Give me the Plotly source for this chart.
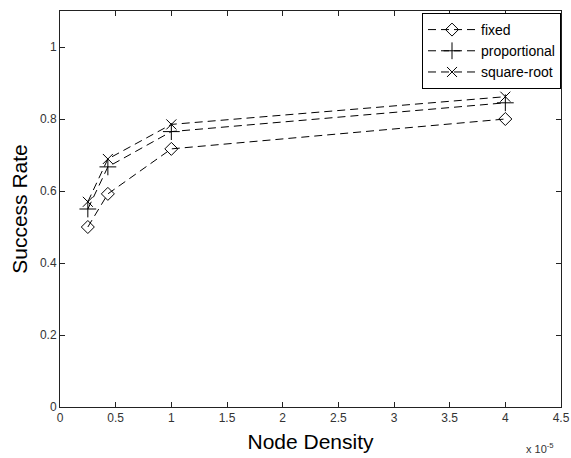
import plotly.graph_objects as go

density = [0.25, 0.43, 1.0, 4.0]  # x 10^-5
fixed = [0.50, 0.592, 0.717, 0.80]
proportional = [0.55, 0.667, 0.765, 0.845]
square_root = [0.57, 0.689, 0.785, 0.862]
xticks = [0, 0.5, 1, 1.5, 2, 2.5, 3, 3.5, 4, 4.5]
xticklabels = ["0", "0.5", "1", "1.5", "2", "2.5", "3", "3.5", "4", "4.5"]
yticks = [0, 0.2, 0.4, 0.6, 0.8, 1]
yticklabels = ["0", "0.2", "0.4", "0.6", "0.8", "1"]

series = [
    ("fixed", fixed, "diamond-open", 10),
    ("proportional", proportional, "cross-thin-open", 12),
    ("square-root", square_root, "x-thin-open", 10),
]

FONT = "Liberation Sans, Arial"

fig = go.Figure()
for name, vals, sym, sz in series:
    fig.add_trace(go.Scatter(
        x=density, y=vals, name=name, mode="lines+markers",
        line=dict(color="black", width=1, dash="8px,5px"),
        marker=dict(symbol=sym, size=sz, color="black",
                    line=dict(color="black", width=1)),
    ))

axis_common = dict(
    showgrid=False, zeroline=False, showline=True, linecolor="#222",
    linewidth=1, mirror="ticks", ticks="inside", ticklen=5,
    tickcolor="#222", automargin=False,
    tickfont=dict(family=FONT, size=12, color="#333"),
)
fig.update_xaxes(range=[0, 4.5], tickvals=xticks, ticktext=xticklabels,
                 title=dict(text="Node Density", standoff=9,
                            font=dict(family=FONT, size=21, color="black")),
                 **axis_common)
fig.update_yaxes(range=[0, 1.1], tickvals=yticks, ticktext=yticklabels,
                 title=dict(text="Success Rate", standoff=6,
                            font=dict(family=FONT, size=21, color="black")),
                 **axis_common)

fig.add_annotation(text="x 10<sup>-5</sup>", xref="paper", yref="paper",
                   x=0.99, y=-0.082, xanchor="right", yanchor="top", showarrow=False,
                   font=dict(family=FONT, size=11, color="#333"))

fig.update_layout(
    width=571, height=458,
    margin=dict(l=60, r=10, t=11, b=51),
    paper_bgcolor="white", plot_bgcolor="white",
    legend=dict(x=1, y=0.995, xanchor="right", yanchor="top",
                bgcolor="white", bordercolor="black", borderwidth=1,
                font=dict(family=FONT, size=14, color="black"),
                itemwidth=48, tracegroupgap=0),
    showlegend=True,
)

fig.write_html("out.html", config={"displayModeBar": False},
               post_script="document.body.style.margin='0';document.body.style.overflow='hidden';")
